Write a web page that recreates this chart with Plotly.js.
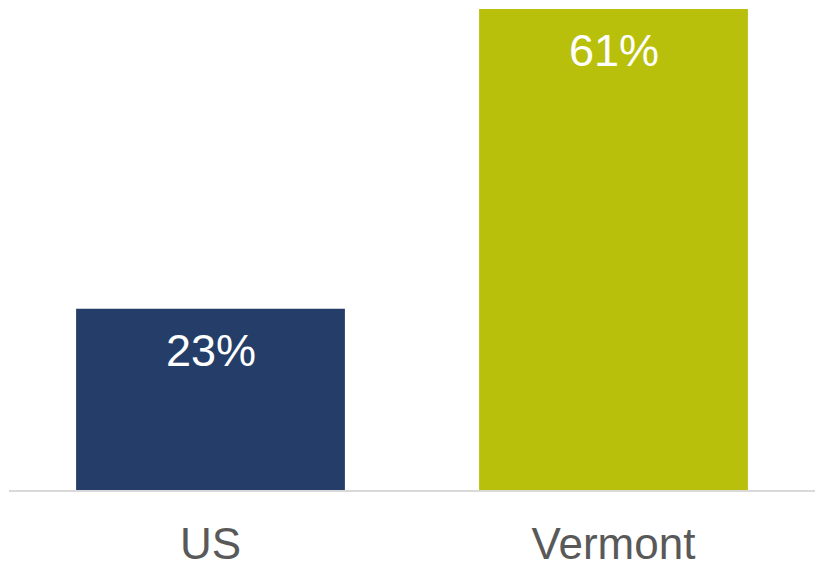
<!DOCTYPE html>
<html>
<head>
<meta charset="utf-8">
<script src="https://cdn.plot.ly/plotly-3.0.1.min.js"></script>
<style>html,body{margin:0;padding:0;background:#fff;}#chart{width:815px;height:570px;}</style>
</head>
<body>
<div id="chart"></div>
<script>
const categories = ["US", "Vermont"];
const values = [23, 61];
const valueLabels = ["23%", "61%"];
const barColors = ["#253e69", "#b8c00c"];

const trace = {
  type: "bar",
  x: categories,
  y: values,
  marker: {color: barColors},
  hoverinfo: "none"
};

const annotations = categories.map((c, i) => ({
  x: c, y: values[i], xref: "x", yref: "y",
  text: valueLabels[i], showarrow: false,
  yanchor: "top", yshift: -14,
  font: {family: "Liberation Sans, Arial, sans-serif", size: 45, color: "#ffffff"}
}));

const layout = {
  width: 815, height: 570,
  margin: {l: 9, r: 0, t: 9, b: 80},
  paper_bgcolor: "#ffffff", plot_bgcolor: "#ffffff",
  bargap: 0.333,
  showlegend: false,
  xaxis: {
    showline: true, linecolor: "#d9d9d9", linewidth: 2,
    ticks: "", ticklabelstandoff: 14,
    tickfont: {family: "Liberation Sans, Arial, sans-serif", size: 44, color: "#595959"},
    fixedrange: true
  },
  yaxis: {
    range: [0, 61], visible: false, showgrid: false, zeroline: false, fixedrange: true
  },
  annotations: annotations
};

Plotly.newPlot("chart", [trace], layout, {displayModeBar: false, staticPlot: true});
</script>
</body>
</html>
